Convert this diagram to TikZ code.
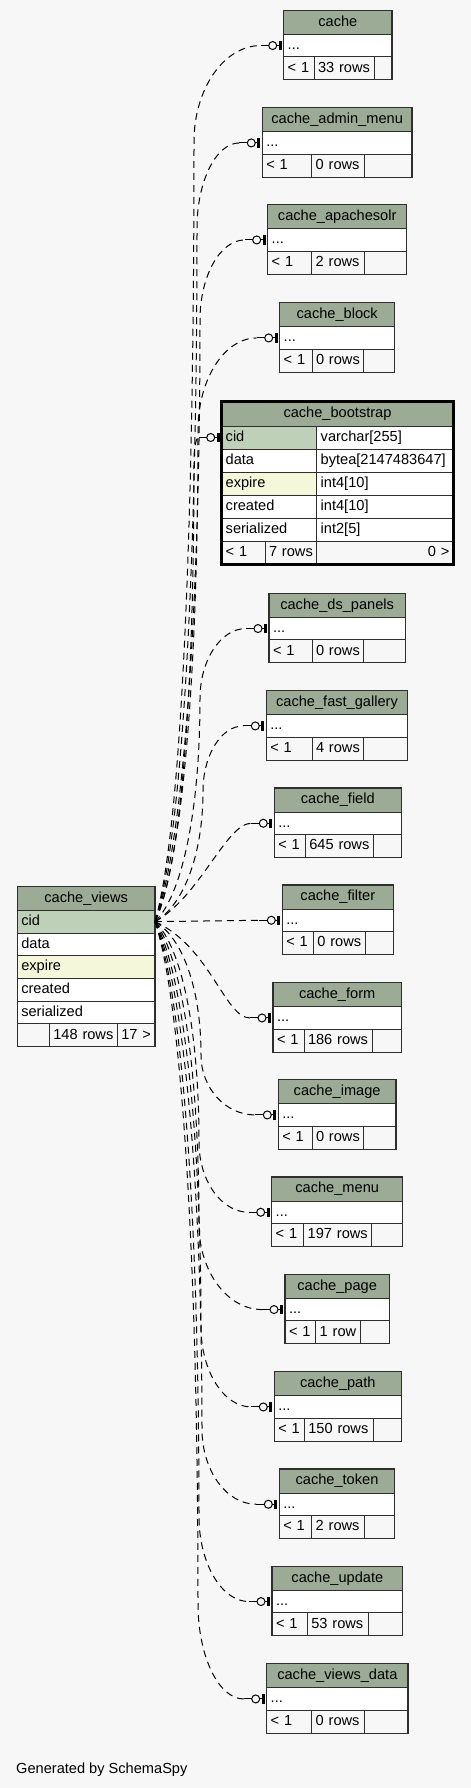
\documentclass[tikz,border=0pt]{standalone}
\usepackage{fontspec}
\setmainfont{Liberation Sans}
\usetikzlibrary{calc}

\definecolor{pagebg}{HTML}{F7F7F7}
\definecolor{headbg}{HTML}{9BAB96}
\definecolor{keybg}{HTML}{BED1B8}
\definecolor{indexbg}{HTML}{F4F7DA}
\definecolor{gridline}{HTML}{2E2E2E}

\tikzset{
  cell/.style={draw=gridline, line width=0.9pt, anchor=north west, outer sep=0pt,
    inner xsep=4pt, inner ysep=0pt, minimum height=23pt, text height=10.5pt,
    text depth=3pt, font=\fontsize{14.6}{17}\selectfont, align=left},
  head/.style={cell, fill=headbg, minimum height=24pt, align=center},
  tableframe/.style={draw=gridline, line width=1.3pt},
  implied/.style={line width=1pt, dash pattern=on 7pt off 5pt},
  tie/.style={line width=1pt},
}

% table with one "..." row and a footer
\newcommand\smalltable[8]{%
  \node[head, minimum width={#4-#3}] (#1) at (#3,-#5) {#2};
  \node[cell, fill=white, minimum height=22.5pt, text width={#4-#3-8}] (#1-row) at (#3,{-#5-24}) {...};
  \node[cell, fill=pagebg, text width={#6-#3-8}] (#1-lt) at (#3,{-#5-46.5}) {\mbox{< 1}};
  \node[cell, fill=pagebg, text width={#7-#6-8}] (#1-rows) at (#6,{-#5-46.5}) {\mbox{#8}};
  \node[cell, fill=pagebg, minimum width={#4-#7}] (#1-gt) at (#7,{-#5-46.5}) {};
  \draw[tableframe] (#1.north west) rectangle (#1-gt.south east);
}

% zero-or-one end at a row
\newcommand\zeroone[1]{%
  \coordinate (#1-foot) at ([xshift=-23pt]#1.west);
  \draw[tie] (#1-foot) -- ([xshift=-15pt]#1.west);
  \draw[tie] ([xshift=-11pt]#1.west) circle[radius=4pt];
  \draw[tie] ([xshift=-7pt]#1.west) -- ([xshift=-5pt]#1.west);
  \draw[line width=3pt] ([xshift=-3.5pt,yshift=4.75pt]#1.west) -- ([xshift=-3.5pt,yshift=-4.75pt]#1.west);
}

% #1 row node, #2 x of the long run, #3 height of the bend
\newcommand\impliedlink[3]{%
  \zeroone{#1}
  \coordinate (#1-bend) at ($(#2,0 |- #1.west)+(0,{-1*(#3)})$);
  \draw[implied] (cv-cid.east)
    .. controls ($(cv-cid.east)!0.12!(#1-bend)+(22,0)$) and ($(#1-bend)!0.5!(cv-cid.east -| #1-bend)$) .. (#1-bend)
    .. controls ($(#1-bend)!0.55!(#1-bend |- #1-foot)$) and ($(#1-foot)!0.55!(#1-bend |- #1-foot)$) .. (#1-foot);
}

\begin{document}
\begin{tikzpicture}[x=1pt,y=1pt]
  \fill[pagebg] (0,0) rectangle (471,-1788);
  \useasboundingbox (0,0) rectangle (471,-1788);

  % referencing tables
  \foreach \nm/\hd/\xl/\xr/\yt/\da/\db/\cnt in {
      cache/cache/283.7/392/10.3/314/374/33 rows,
      adminmenu/cache\_admin\_menu/262.3/412/107.7/311.7/364/0 rows,
      apachesolr/cache\_apachesolr/267.7/406.7/204.7/311.7/364/2 rows,
      block/cache\_block/279.7/394.7/302.7/312/363.7/0 rows,
      dspanels/cache\_ds\_panels/269/405.3/593.3/312/363.7/0 rows,
      fastgallery/cache\_fast\_gallery/266.3/407.7/690.7/312/363.7/4 rows,
      field/cache\_field/274.3/401.3/788/305.3/373.3/645 rows,
      filter/cache\_filter/282.3/393.3/885/313.3/365.3/0 rows,
      form/cache\_form/273/401.3/982.7/304/372/186 rows,
      image/cache\_image/278.3/396/1079.7/312/363.7/0 rows,
      menu/cache\_menu/271.7/402.7/1177/303.7/371.7/197 rows,
      page/cache\_page/285/389.3/1274.3/315.7/360/1 row,
      path/cache\_path/274.3/401.3/1371.7/304.3/373/150 rows,
      token/cache\_token/279.3/394.7/1469/311.7/364/2 rows,
      update/cache\_update/272/402.7/1566.3/307.3/368/53 rows,
      viewsdata/cache\_views\_data/266.7/408/1663.7/311.7/364/0 rows}
    {\smalltable{\nm}{\hd}{\xl}{\xr}{\yt}{\da}{\db}{\cnt}}

  % cache_bootstrap
  \node[head, minimum width=231.6, minimum height=25] (bootstrap) at (221.7,-401) {cache\_bootstrap};
  \foreach \i/\col/\typ/\bg in {0/cid/varchar[255]/keybg, 1/data/bytea[2147483647]/white,
      2/expire/int4[10]/indexbg, 3/created/int4[10]/white, 4/serialized/int2[5]/white} {
    \node[cell, fill=\bg, text width=87] (bootstrap-\col) at (221.7,{-426-23*\i}) {\col};
    \node[cell, fill=white, text width=128.6] (bootstrap-\col-type) at (316.7,{-426-23*\i}) {\mbox{\typ}};
  }
  \node[cell, fill=pagebg, text width=35.3] (bootstrap-lt) at (221.7,-541) {\mbox{< 1}};
  \node[cell, fill=pagebg, text width=43.7] (bootstrap-rows) at (265,-541) {\mbox{7 rows}};
  \node[cell, fill=pagebg, text width=128.6, align=right] (bootstrap-gt) at (316.7,-541) {0 >};
  \draw[line width=3pt] (bootstrap.north west) rectangle (bootstrap-gt.south east);

  % cache_views
  \node[head, minimum width=137.7, minimum height=23.6] (cv) at (17.3,-886.7) {cache\_views};
  \foreach \i/\col/\bg in {0/cid/keybg, 1/data/white, 2/expire/indexbg, 3/created/white, 4/serialized/white}
    \node[cell, fill=\bg, minimum height=22.7, text width=129.7] (cv-\col) at (17.3,{-910.3-22.7*\i}) {\col};
  \node[cell, fill=pagebg, minimum width=32] (cv-lt) at (17.3,-1023.8) {};
  \node[cell, fill=pagebg, text width=60] (cv-rows) at (49.3,-1023.8) {\mbox{148 rows}};
  \node[cell, fill=pagebg, text width=29.7, align=right] (cv-gt) at (117.3,-1023.8) {\mbox{17 >}};
  \draw[tableframe] (cv.north west) rectangle (cv-gt.south east);

  % implied links
  \foreach \rw/\xv/\bh in {cache-row/194/96, adminmenu-row/197/85, apachesolr-row/200/80,
      block-row/198/92, bootstrap-cid/194/22, dspanels-row/200/70, fastgallery-row/203/65,
      image-row/201/-60, menu-row/199/-70, page-row/199/-85, path-row/201/-80,
      token-row/202/-75, update-row/199/-85, viewsdata-row/198/-95}
    {\impliedlink{\rw}{\xv}{\bh}}
  \zeroone{field-row}
  \draw[implied] (cv-cid.east) .. controls +(45,25) and +(-25,0) .. (field-row-foot);
  \zeroone{filter-row}
  \draw[implied] (cv-cid.east) -- (filter-row-foot);
  \zeroone{form-row}
  \draw[implied] (cv-cid.east) .. controls +(55,-25) and +(-25,0) .. (form-row-foot);

  \node[anchor=base west, inner sep=0pt, font=\fontsize{14.6}{17}\selectfont] (credit) at (16,-1773.3) {Generated by SchemaSpy};
\end{tikzpicture}
\end{document}
